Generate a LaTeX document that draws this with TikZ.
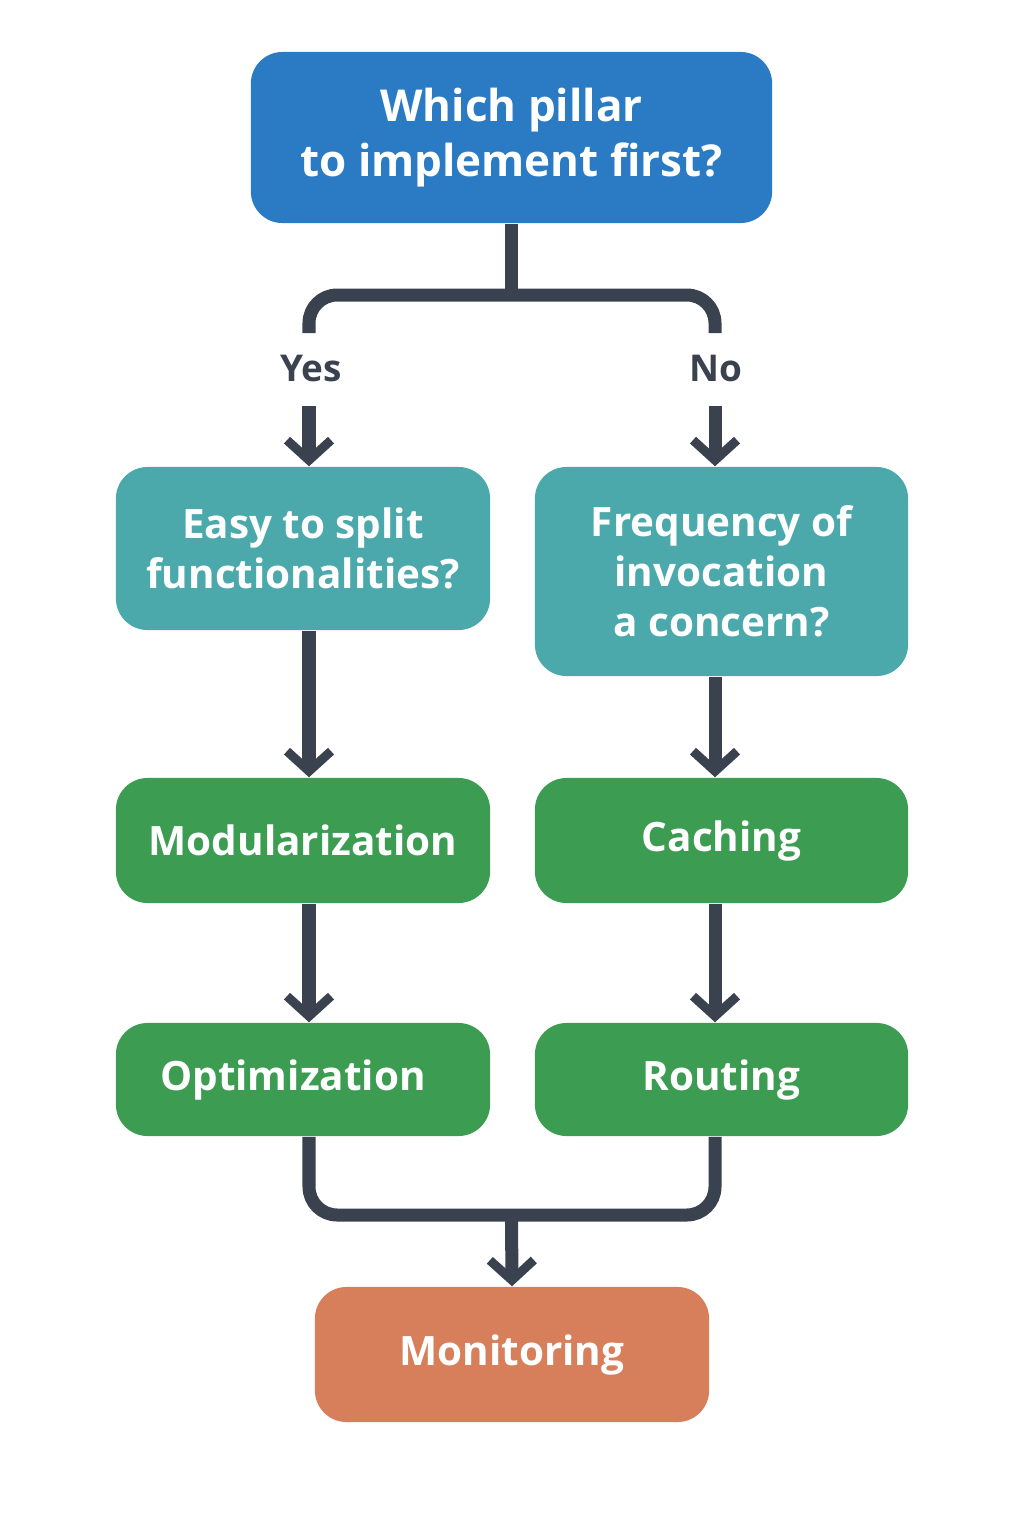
\documentclass[tikz,border=0pt]{standalone}
\usepackage{fontspec}
\setmainfont{Open Sans}
\usetikzlibrary{positioning,arrows.meta}
\definecolor{pillarblue}{HTML}{2A7BC4}
\definecolor{askteal}{HTML}{4BA9AC}
\definecolor{stepgreen}{HTML}{3C9C52}
\definecolor{endorange}{HTML}{D77F5A}
\definecolor{linkgray}{HTML}{3A4250}
\tikzset{
	box/.style={rectangle,rounded corners=9pt,text=white,align=center,inner sep=0pt,
		font=\fontsize{11.5}{14.2}\selectfont\bfseries},
	link/.style={draw=linkgray,line width=1.3mm,rounded corners=8pt},
	tip/.style={-{Straight Barb[length=2mm,width=4.4mm,line width=0.9mm]}},
	answer/.style={text=linkgray,font=\fontsize{10.5}{12}\selectfont\bfseries}
}
\begin{document}
\begin{tikzpicture}[x=0.01cm,y=-0.01cm]
	\useasboundingbox (0,0) rectangle (1024,1536);
	%boxes
	\node[box,fill=pillarblue,minimum width=5.21cm,minimum height=1.71cm,
		font=\fontsize{12.5}{15.6}\selectfont\bfseries] (pillar) at (511.5,137.5) {Which pillar\\to implement first?};
	\node[box,fill=askteal,minimum width=3.74cm,minimum height=1.63cm] (split) at (303,548.5) {Easy to split\\functionalities?};
	\node[box,fill=askteal,minimum width=3.73cm,minimum height=2.09cm] (freq) at (721.5,571.5) {Frequency of\\invocation\\a concern?};
	\node[box,fill=stepgreen,minimum width=3.74cm,minimum height=1.25cm] (modul) at (303,840.5) {Modularization};
	\node[box,fill=stepgreen,minimum width=3.73cm,minimum height=1.25cm] (caching) at (721.5,840.5) {Caching};
	\node[box,fill=stepgreen,minimum width=3.74cm,minimum height=1.13cm] (optim) at (303,1079.5) {\hspace*{-0.2cm}Optimization};
	\node[box,fill=stepgreen,minimum width=3.73cm,minimum height=1.13cm] (routing) at (721.5,1079.5) {Routing};
	\node[box,fill=endorange,minimum width=3.94cm,minimum height=1.35cm] (monitor) at (512,1354.5) {Monitoring};
	
	%answers
	\node[answer] (yes) at (311,368) {Yes};
	\node[answer] (no) at (716,368) {No};
	\coordinate (yestop) at (309,333);
	\coordinate (notop) at (715,333);
	\coordinate (fork) at (511.5,295);
	\coordinate (join) at (511.5,1215);
	
	%connectors
	\draw[link] (pillar.south) -- (fork);
	\draw[link] (yestop) |- (fork) -| (notop);
	\draw[link,tip] (yes.south -| yestop) ++(0,12) -- (yestop |- split.north);
	\draw[link,tip] (no.south -| notop) ++(0,12) -- (notop |- freq.north);
	\draw[link,tip] (yestop |- split.south) -- (yestop |- modul.north);
	\draw[link,tip] (notop |- freq.south) -- (notop |- caching.north);
	\draw[link,tip] (yestop |- modul.south) -- (yestop |- optim.north);
	\draw[link,tip] (notop |- caching.south) -- (notop |- routing.north);
	\draw[link] (yestop |- optim.south) |- (join) -| (notop |- routing.south);
	\draw[link,tip] (join) -- (monitor.north);
\end{tikzpicture}
\end{document}
